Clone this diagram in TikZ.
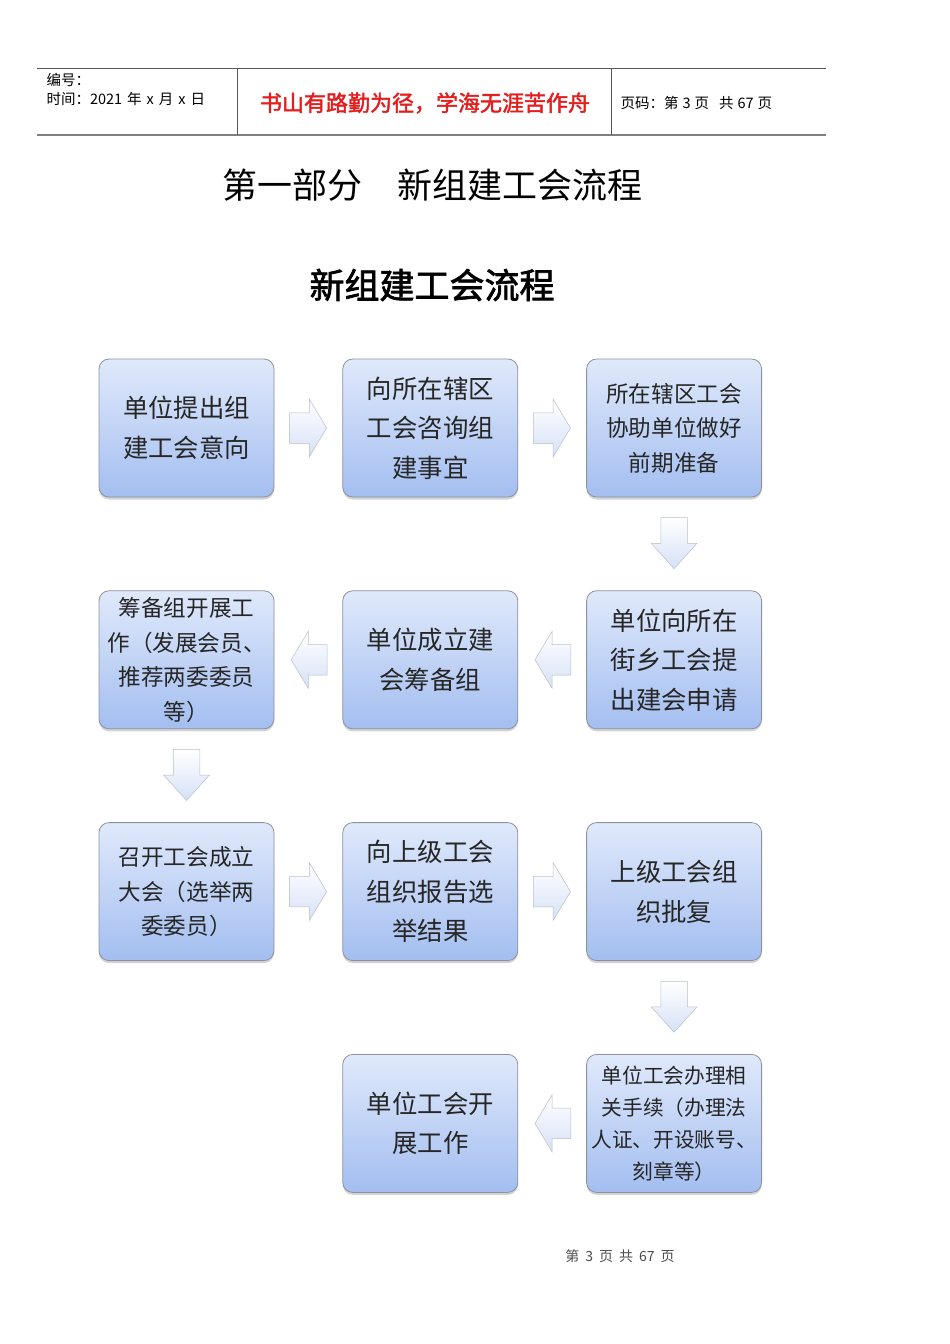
\documentclass[tikz,border=0pt]{standalone}
\usepackage{fontspec}
\setmainfont{Noto Sans CJK SC}[AutoFakeBold=2]
\usepackage{tikz}
\usetikzlibrary{positioning,calc,shapes.arrows,shadows}
\definecolor{boxtop}{RGB}{224,233,251}
\definecolor{boxbot}{RGB}{163,190,240}
\definecolor{boxline}{RGB}{140,146,158}
\definecolor{arrline}{RGB}{185,190,200}
\definecolor{arrfill}{RGB}{214,225,247}
\definecolor{mottored}{RGB}{226,30,30}
\tikzset{
  stepbox/.style={draw=boxline, line width=0.8pt, rounded corners=10pt, minimum width=175pt, minimum height=138pt, inner sep=2pt, align=center, text=black!85, top color=boxtop, bottom color=boxbot, drop shadow={shadow xshift=0pt, shadow yshift=-2.5pt, opacity=0.35}},
  bigtxt/.style={font=\fontsize{25.4pt}{39.5pt}\selectfont},
  midtxt/.style={font=\fontsize{22.6pt}{34.5pt}\selectfont},
  smalltxt/.style={font=\fontsize{20.7pt}{32pt}\selectfont},
  blockarr/.style={single arrow, draw=arrline, line width=0.5pt, top color=white, bottom color=arrfill, anchor=tail},
  rarrow/.style={blockarr, minimum height=37pt, inner xsep=0pt, inner ysep=15pt, single arrow head extend=13.5pt, single arrow tip angle=118, xshift=15pt},
  larrow/.style={blockarr, minimum height=36pt, inner xsep=0pt, inner ysep=15pt, single arrow head extend=13.5pt, single arrow tip angle=118, shape border rotate=180, xshift=-15pt},
  darrow/.style={blockarr, minimum height=51pt, inner xsep=13pt, inner ysep=0pt, single arrow head extend=9.5pt, single arrow tip angle=84, shape border rotate=270, yshift=-20pt}
}

\begin{document}
\begin{tikzpicture}[x=1pt,y=-1pt]
\useasboundingbox (0,0) rectangle (950,1344);
\draw[gray!70!black, line width=0.8pt] (37,68) -- (826,68);
\draw[gray, line width=2pt] (37,135) -- (826,135);
\draw[gray!70!black, line width=0.8pt] (237,68) -- (237,135) (611,68) -- (611,135);
\node[anchor=west, font=\fontsize{14.5pt}{17pt}\selectfont] (hnum) at (43,80) {编号：};
\node[anchor=west, font=\fontsize{14.5pt}{17pt}\selectfont] (htime) at (43,99) {时间：2021\hspace{5pt}年\hspace{5pt}x\hspace{5pt}月\hspace{5pt}x\hspace{5pt}日};
\node[font=\bfseries\fontsize{22pt}{26pt}\selectfont, text=mottored] (motto) at (425,103) {书山有路勤为径，学海无涯苦作舟};
\node[anchor=west, font=\fontsize{14.5pt}{17pt}\selectfont] (hpage) at (617,103) {页码：第\hspace{4pt}3\hspace{4pt}页\hspace{10pt}共\hspace{4pt}67\hspace{4pt}页};
\node[font=\fontsize{35pt}{40pt}\selectfont] (part) at (432,185) {第一部分　新组建工会流程};
\node[font=\bfseries\fontsize{35pt}{40pt}\selectfont] (title) at (432,285) {新组建工会流程};

\node[stepbox, bigtxt] (b1) at (186.5,428) {单位提出组\\建工会意向};
\node[stepbox, bigtxt, right=68pt of b1] (b2) {向所在辖区\\工会咨询组\\建事宜};
\node[stepbox, midtxt, right=68pt of b2] (b3) {所在辖区工会\\协助单位做好\\前期准备};
\node[stepbox, bigtxt, below=93pt of b3] (b4) {单位向所在\\街乡工会提\\出建会申请};
\node[stepbox, bigtxt, left=68pt of b4] (b5) {单位成立建\\会筹备组};
\node[stepbox, midtxt, left=68pt of b5] (b6) {筹备组开展工\\作（发展会员、\\推荐两委委员\\等）};
\node[stepbox, midtxt, below=93pt of b6] (b7) {召开工会成立\\大会（选举两\\委委员）};
\node[stepbox, bigtxt, right=68pt of b7] (b8) {向上级工会\\组织报告选\\举结果};
\node[stepbox, bigtxt, right=68pt of b8] (b9) {上级工会组\\织批复};
\node[stepbox, smalltxt, below=93pt of b9] (b10) {单位工会办理相\\关手续（办理法\\人证、开设账号、\\刻章等）};
\node[stepbox, bigtxt, left=68pt of b10] (b11) {单位工会开\\展工作};

\node[rarrow] (a12) at (b1.east) {};
\node[rarrow] (a23) at (b2.east) {};
\node[darrow] (a34) at (b3.south) {};
\node[larrow] (a45) at (b4.west) {};
\node[larrow] (a56) at (b5.west) {};
\node[darrow] (a67) at (b6.south) {};
\node[rarrow] (a78) at (b7.east) {};
\node[rarrow] (a89) at (b8.east) {};
\node[darrow] (a910) at (b9.south) {};
\node[larrow] (a1011) at (b10.west) {};

\node[font=\fontsize{14pt}{16pt}\selectfont, text=black!70] (foot) at (620,1256) {第\hspace{6pt}3\hspace{6pt}页\hspace{6pt}共\hspace{6pt}67\hspace{6pt}页};
\end{tikzpicture}
\end{document}
